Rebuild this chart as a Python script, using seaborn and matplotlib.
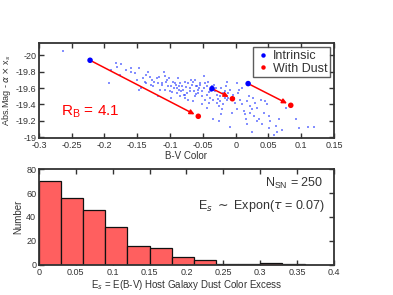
import numpy as np
import pandas as pd
import matplotlib
matplotlib.use("Agg")
import matplotlib.pyplot as plt
import seaborn as sns

# scatter cloud (B-V colour, corrected abs. magnitude)
cloud_x = [-0.263, -0.182, -0.175, -0.190, -0.193, -0.181, -0.167, -0.159, -0.153, -0.147,
           -0.141, -0.134, -0.131, -0.139, -0.147, -0.136, -0.129, -0.124, -0.118, -0.118,
           -0.144, -0.177, -0.110, -0.108, -0.113, -0.106, -0.095, -0.093, -0.098, -0.090,
           -0.085, -0.082, -0.077, -0.072, -0.067, -0.065, -0.049, -0.059, -0.054, -0.049,
           -0.044, -0.090, -0.085, -0.077, -0.072, -0.065, -0.062, -0.057, -0.052, -0.044,
           -0.039, -0.034, -0.029, -0.026, -0.021, -0.019, -0.013, -0.011, -0.013, -0.006,
           -0.008, -0.034, -0.026, -0.052, -0.044, -0.039, -0.031, -0.024, -0.019, 0.002,
           -0.001, 0.002, 0.004, 0.007, 0.010, 0.012, 0.015, 0.017, 0.020, 0.022,
           0.025, 0.022, 0.027, 0.030, 0.033, 0.035, 0.033, 0.025, 0.040, 0.051,
           0.053, 0.051, 0.058, 0.066, 0.071, 0.063, 0.045, 0.048, 0.076, 0.092,
           0.097, 0.110, 0.120, -0.120, -0.115, -0.104, -0.100, -0.088, -0.080, -0.075,
           -0.070, -0.062, -0.058, -0.047, -0.041, -0.036, -0.028, -0.022, -0.016, -0.009,
           -0.103, -0.097, -0.091, -0.083, -0.079, -0.069, -0.061, -0.055, -0.046, -0.037,
           -0.030, -0.024, -0.017, -0.011, -0.004, -0.128, -0.112, -0.101, -0.094, -0.087,
           -0.074, -0.068, -0.060, -0.051, -0.042, -0.033, -0.027, -0.015, -0.150, -0.137,
           -0.126, -0.117, -0.107, -0.099, -0.086, -0.078, -0.064, -0.056, -0.040, -0.023,
           0.005, 0.014, 0.028, 0.038, 0.043, 0.061, 0.009, 0.018, -0.003, -0.160]
cloud_y = [-20.05, -19.91, -19.90, -19.82, -19.66, -19.86, -19.82, -19.85, -19.78, -19.85,
           -19.72, -19.80, -19.74, -19.68, -19.58, -19.66, -19.64, -19.68, -19.66, -19.50,
           -19.60, -19.76, -19.80, -19.75, -19.66, -19.68, -19.68, -19.66, -19.62, -19.60,
           -19.66, -19.62, -19.68, -19.66, -19.64, -19.68, -19.75, -19.62, -19.64, -19.60,
           -19.62, -19.54, -19.50, -19.52, -19.46, -19.44, -19.50, -19.54, -19.50, -19.52,
           -19.48, -19.46, -19.42, -19.38, -19.34, -19.40, -19.46, -19.54, -19.68, -19.30,
           -19.13, -19.22, -19.20, -19.40, -19.36, -19.58, -19.56, -19.50, -19.54, -19.34,
           -19.42, -19.66, -19.54, -19.46, -19.40, -19.32, -19.22, -19.44, -19.50, -19.38,
           -19.34, -19.30, -19.48, -19.42, -19.36, -19.22, -19.20, -19.07, -19.16, -19.26,
           -19.20, -19.11, -19.03, -19.22, -19.09, -19.07, -19.44, -19.40, -19.36, -19.22,
           -19.11, -19.13, -19.13, -19.72, -19.58, -19.70, -19.57, -19.72, -19.58, -19.61,
           -19.56, -19.70, -19.58, -19.66, -19.55, -19.63, -19.52, -19.60, -19.48, -19.58,
           -19.62, -19.55, -19.64, -19.57, -19.52, -19.60, -19.53, -19.66, -19.45, -19.56,
           -19.60, -19.44, -19.56, -19.48, -19.52, -19.70, -19.64, -19.72, -19.60, -19.63,
           -19.54, -19.70, -19.62, -19.56, -19.68, -19.64, -19.47, -19.62, -19.70, -19.76,
           -19.62, -19.74, -19.58, -19.48, -19.58, -19.48, -19.57, -19.60, -19.42, -19.28,
           -19.58, -19.28, -19.26, -19.46, -19.30, -19.14, -19.60, -19.16, -19.48, -19.80]

# three example SNe: intrinsic -> with dust
intr_x = [-0.222, -0.036, 0.019]
intr_y = [-19.94, -19.594, -19.655]
dust_x = [-0.057, -0.005, 0.084]
dust_y = [-19.256, -19.47, -19.39]

# histogram of E_s
bin_edges = [0.0, 0.03, 0.06, 0.09, 0.12, 0.15, 0.18, 0.21, 0.24, 0.27, 0.30, 0.33, 0.36]
counts = [70, 56, 46, 32, 16, 14, 7, 4, 1, 1, 2, 1]

sns.set_style("ticks")
plt.rcParams['font.family'] = ['Liberation Sans', 'DejaVu Sans']
plt.rcParams['mathtext.fontset'] = 'dejavusans'
grey = '#333333'
for k in ['xtick.color', 'ytick.color', 'axes.edgecolor', 'text.color', 'axes.labelcolor']:
    plt.rcParams[k] = grey

fig = plt.figure(figsize=(3.93, 2.95), dpi=100)
ax1 = fig.add_axes([0.099, 0.532, 0.751, 0.322])
ax2 = fig.add_axes([0.099, 0.102, 0.751, 0.325])

# ---- top panel
sns.scatterplot(x=cloud_x, y=cloud_y, ax=ax1, color='#3344ff', s=2, marker='s',
                linewidth=0, alpha=0.6, legend=False)
for bx, by, rx, ry in zip(intr_x, intr_y, dust_x, dust_y):
    ax1.annotate("", xy=(rx, ry), xytext=(bx, by),
                 arrowprops=dict(arrowstyle='-|>', color='red', lw=1.1,
                                 shrinkA=2, shrinkB=3, mutation_scale=7))
pts = pd.DataFrame({'x': intr_x + dust_x, 'y': intr_y + dust_y,
                    'kind': ['Intrinsic'] * 3 + ['With Dust'] * 3})
sns.scatterplot(data=pts, x='x', y='y', hue='kind', ax=ax1,
                palette={'Intrinsic': 'blue', 'With Dust': 'red'},
                s=16, linewidth=0, zorder=5)
ax1.set_xlim(-0.3, 0.15)
ax1.set_ylim(-18.99, -20.15)
ax1.set_xticks(np.arange(-0.3, 0.151, 0.05))
ax1.set_xticklabels(['-0.3', '-0.25', '-0.2', '-0.15', '-0.1', '-0.05', '0', '0.05', '0.1', '0.15'])
ax1.set_yticks([-20, -19.8, -19.6, -19.4, -19.2, -19])
ax1.set_yticklabels(['-20', '-19.8', '-19.6', '-19.4', '-19.2', '-19'])
ax1.set_xlabel('B-V Color', fontsize=7, labelpad=1)
ax1.set_ylabel(r'Abs.Mag - $\alpha$ $\times$ x$_s$', fontsize=6.5, labelpad=2)
ax1.text(-0.266, -19.31, r'R$_\mathregular{B}$ = 4.1', color='red', fontsize=11,
         va='center', ha='left')
leg = ax1.legend(loc='upper right', fontsize=9, frameon=True, fancybox=False,
                 handletextpad=0.1, borderpad=0.2, labelspacing=0.05,
                 borderaxespad=0.35, markerscale=0.8, handlelength=1.3)
leg.get_frame().set_edgecolor(grey)
leg.get_frame().set_linewidth(1.0)

# ---- bottom panel
centers = [(a + b) / 2 for a, b in zip(bin_edges[:-1], bin_edges[1:])]
sns.histplot(x=centers, weights=counts, bins=bin_edges, ax=ax2,
             color='#ff5f5f', edgecolor='#111111', linewidth=0.9, alpha=1.0)
ax2.set_xlim(0, 0.4)
ax2.set_ylim(0, 80)
ax2.set_xticks(np.arange(0, 0.401, 0.05))
ax2.set_xticklabels(['0', '0.05', '0.1', '0.15', '0.2', '0.25', '0.3', '0.35', '0.4'])
ax2.set_yticks([0, 20, 40, 60, 80])
ax2.set_xlabel(r'E$_s$ = E(B-V) Host Galaxy Dust Color Excess', fontsize=7, labelpad=1)
ax2.set_ylabel('Number', fontsize=7, labelpad=2)
ax2.text(0.385, 68, r'N$_\mathregular{SN}$ = 250', fontsize=9, ha='right', va='center')
ax2.text(0.388, 49, r'E$_s$ $\sim$ Expon($\tau$ = 0.07)', fontsize=9, ha='right', va='center')

for ax in (ax1, ax2):
    ax.tick_params(direction='in', top=True, right=True, length=3.5, width=1.0,
                   labelsize=6.5, pad=2)
    for sp in ax.spines.values():
        sp.set_linewidth(1.3)
        sp.set_color(grey)

fig.savefig('out.png', dpi=100)
